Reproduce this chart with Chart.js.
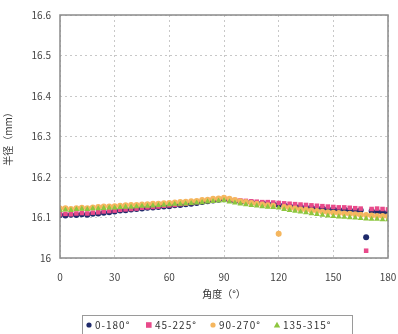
<!DOCTYPE html>
<html><head><meta charset="utf-8">
<script src="https://cdn.jsdelivr.net/npm/chart.js@4/dist/chart.umd.min.js"></script>
<style>html,body{margin:0;padding:0;background:#fff;}#wrap{width:398px;height:334px;}</style>
</head><body><div id="wrap"><canvas id="c" width="398" height="334"></canvas></div>
<script>
const angles = [0,3,6,9,12,15,18,21,24,27,30,33,36,39,42,45,48,51,54,57,60,63,66,69,72,75,78,81,84,87,90,93,96,99,102,105,108,111,114,117,120,123,126,129,132,135,138,141,144,147,150,153,156,159,162,165,168,171,174,177,180];
const s0_180 = [16.106,16.105,16.107,16.106,16.108,16.107,16.109,16.110,16.112,16.113,16.115,16.117,16.118,16.120,16.121,16.122,16.124,16.125,16.126,16.127,16.128,16.130,16.131,16.133,16.134,16.136,16.138,16.140,16.142,16.144,16.145,16.143,16.141,16.139,16.138,16.137,16.136,16.135,16.134,16.133,16.131,16.130,16.128,16.127,16.126,16.125,16.124,16.123,16.122,16.121,16.120,16.119,16.120,16.118,16.117,16.118,16.051,16.116,16.114,16.113,16.112];
const s45_225 = [16.108,16.109,16.108,16.110,16.111,16.110,16.112,16.113,16.115,16.116,16.117,16.119,16.120,16.121,16.122,16.124,16.125,16.126,16.127,16.129,16.130,16.131,16.133,16.134,16.136,16.138,16.140,16.141,16.143,16.145,16.146,16.144,16.143,16.142,16.141,16.140,16.139,16.138,16.138,16.137,16.136,16.135,16.134,16.133,16.132,16.131,16.130,16.129,16.128,16.127,16.126,16.125,16.125,16.124,16.123,16.122,16.018,16.121,16.122,16.121,16.120];
const s90_270 = [16.122,16.123,16.121,16.123,16.124,16.123,16.125,16.126,16.127,16.127,16.128,16.129,16.130,16.131,16.131,16.132,16.133,16.134,16.134,16.135,16.136,16.137,16.138,16.139,16.140,16.141,16.143,16.144,16.146,16.147,16.149,16.146,16.143,16.140,16.138,16.136,16.134,16.132,16.130,16.129,16.060,16.126,16.124,16.122,16.120,16.119,16.117,16.116,16.114,16.113,16.112,16.111,16.110,16.109,16.108,16.107,16.106,16.105,16.104,16.104,16.103];
const s135_315 = [16.118,16.119,16.118,16.120,16.121,16.120,16.122,16.122,16.123,16.124,16.124,16.125,16.126,16.126,16.127,16.128,16.128,16.129,16.130,16.131,16.132,16.133,16.133,16.134,16.135,16.136,16.137,16.139,16.140,16.141,16.142,16.139,16.136,16.134,16.132,16.130,16.129,16.127,16.126,16.125,16.124,16.120,16.118,16.116,16.114,16.112,16.110,16.108,16.106,16.104,16.103,16.102,16.101,16.100,16.099,16.098,16.097,16.096,16.096,16.095,16.095];
const seriesNames = ['0-180°','45-225°','90-270°','135-315°'];
const xTicks = [0,30,60,90,120,150,180];
const yTicks = [16,16.1,16.2,16.3,16.4,16.5,16.6];
const yTickLabels = ['16','16.1','16.2','16.3','16.4','16.5','16.6'];

const FONT = "'Noto Sans CJK JP', 'Noto Sans', sans-serif";
const pts = arr => angles.map((a,i)=>({x:a,y:arr[i]}));
const styles = [
  {c:'#1f2a6b', p:'circle', r:3.0, order:4},
  {c:'#e84a8a', p:'rect', r:3.2, order:3},
  {c:'#f5b65e', p:'circle', r:3.0, order:2},
  {c:'#8dc63f', p:'triangle', r:3.4, order:1}
];
const allSeries = [s0_180, s45_225, s90_270, s135_315];

// custom legend drawn on the canvas (boxed, like the original)
const legendX = [86, 146, 210, 274];
const boxedLegend = {
  id:'boxedLegend',
  afterDraw(chart){
    const ctx = chart.ctx; ctx.save();
    ctx.strokeStyle = '#9a9a9a'; ctx.lineWidth = 1;
    ctx.strokeRect(82.5, 315.5, 270, 30);
    ctx.font = `10px ${FONT}`; ctx.textBaseline = 'middle'; ctx.fillStyle = '#333';
    try { ctx.letterSpacing = '1px'; } catch(e) {}
    const y = 325;
    seriesNames.forEach((name,i)=>{
      const x = legendX[i], st = styles[i];
      ctx.fillStyle = st.c;
      ctx.beginPath();
      if (st.p === 'circle') { ctx.arc(x+3, y, 2.6, 0, Math.PI*2); }
      else if (st.p === 'rect') { ctx.rect(x, y-2.8, 5.6, 5.6); }
      else { ctx.moveTo(x+3, y-3.2); ctx.lineTo(x+6.2, y+2.6); ctx.lineTo(x-0.2, y+2.6); ctx.closePath(); }
      ctx.fill();
      ctx.fillStyle = '#333';
      ctx.fillText(name, x+9, y);
    });
    ctx.restore();
  }
};
const frame = {
  id:'frame',
  afterDatasetsDraw(chart){
    const a = chart.chartArea, ctx = chart.ctx; ctx.save();
    ctx.strokeStyle='#8a8a8a'; ctx.lineWidth=1.5;
    ctx.strokeRect(a.left, a.top, a.right-a.left, a.bottom-a.top);
    ctx.restore();
  }
};

new Chart(document.getElementById('c'), {
  type:'scatter',
  data:{ datasets: allSeries.map((s,i)=>({
    label: seriesNames[i], data: pts(s),
    backgroundColor: styles[i].c, borderColor: styles[i].c, borderWidth:0,
    pointStyle: styles[i].p, pointRadius: styles[i].r, order: styles[i].order
  }))},
  options:{
    responsive:false, animation:false, devicePixelRatio:1,
    layout:{padding:{top:15,right:10,left:2,bottom:32}},
    plugins:{ tooltip:{enabled:false}, legend:{display:false} },
    scales:{
      x:{type:'linear', min:0, max:180,
        afterBuildTicks(s){ s.ticks = xTicks.map(v=>({value:v})); },
        afterFit(s){ s.height = 44; s.paddingRight = 0; s.paddingLeft = 0; },
        grid:{color:'#c8c8c8', lineWidth:1, drawTicks:false},
        border:{display:false, dash:[2,3]},
        ticks:{color:'#444', font:{family:FONT,size:10}, padding:13},
        title:{display:true, text:'角度（°）', color:'#333', font:{family:FONT,size:10}, padding:{top:3,bottom:2}}
      },
      y:{type:'linear', min:16, max:16.6,
        afterBuildTicks(s){ s.ticks = yTicks.map(v=>({value:v})); },
        afterFit(s){ s.width = 58; s.paddingTop = 0; s.paddingBottom = 0; },
        grid:{color:'#c8c8c8', lineWidth:1, drawTicks:false},
        border:{display:false, dash:[2,3]},
        ticks:{color:'#444', font:{family:FONT,size:10}, padding:9,
          callback:(v)=>{ const i = yTicks.findIndex(t=>Math.abs(t-v)<1e-9); return i>=0 ? yTickLabels[i] : ''; }},
        title:{display:true, text:'半径（mm）', color:'#333', font:{family:FONT,size:10}, padding:{top:0,bottom:6}}
      }
    }
  },
  plugins:[frame, boxedLegend]
});
</script></body></html>
